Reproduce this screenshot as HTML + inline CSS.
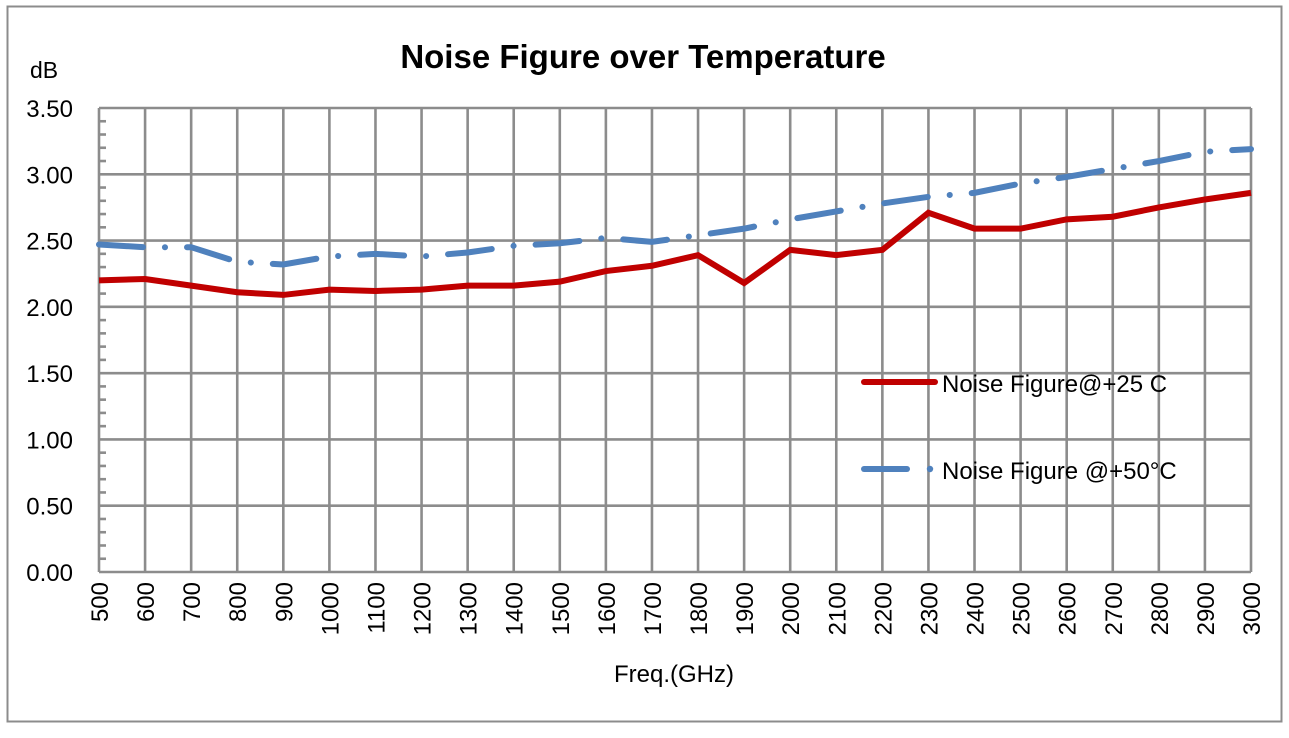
<!DOCTYPE html>
<html><head><style>body{margin:0;background:#fff}</style></head><body>
<svg id="s" width="1289" height="733" xmlns="http://www.w3.org/2000/svg" font-family="Liberation Sans, DejaVu Sans, sans-serif">
<rect x="0" y="0" width="1289" height="733" fill="#fff"/>
<rect x="7.5" y="6.5" width="1274" height="715" fill="none" stroke="#8c8c8c" stroke-width="2"/>
<text x="643" y="68" font-size="33" font-weight="bold" text-anchor="middle" fill="#000">Noise Figure over Temperature</text>
<text x="30" y="78" font-size="23" fill="#000">dB</text>
<text x="674" y="682" font-size="24" text-anchor="middle" fill="#000">Freq.(GHz)</text>
<g id="g"></g>
<text x="942" y="392" font-size="24" fill="#000">Noise Figure@+25 C</text>
<text x="942" y="479" font-size="24" fill="#000">Noise Figure @+50°C</text>
<line x1="864" y1="382" x2="935" y2="382" stroke="#c00000" stroke-width="6" stroke-linecap="round"/>
<line x1="864" y1="469" x2="907" y2="469" stroke="#4f81bd" stroke-width="6" stroke-linecap="round"/>
<circle cx="930" cy="469" r="3.2" fill="#4f81bd"/>
</svg>
<script>
var g=document.getElementById('g');
var L=99,R=1251,T=108,B=572,dx=(R-L)/25,sy=(B-T)/3.5;
function X(i){return L+i*dx}function Y(v){return B-v*sy}
var h='';
for(var i=0;i<=25;i++){h+='<line x1="'+X(i)+'" y1="'+T+'" x2="'+X(i)+'" y2="'+B+'" stroke="#8c8c8c" stroke-width="2.6"/>';
h+='<text transform="translate('+(X(i)+9)+',582) rotate(-90)" font-size="24" text-anchor="end" fill="#000">'+(500+i*100)+'</text>';}
for(var k=0;k<=7;k++){var y=Y(k*0.5);h+='<line x1="'+L+'" y1="'+y+'" x2="'+R+'" y2="'+y+'" stroke="#8c8c8c" stroke-width="2.6"/>';
h+='<text x="73" y="'+(y+9)+'" font-size="24" text-anchor="end" fill="#000">'+(k*0.5).toFixed(2)+'</text>';}
for(var m=0;m<35;m++){if(m%5==0)continue;var y=Y(m*0.1);h+='<line x1="'+L+'" y1="'+y+'" x2="'+(L+7)+'" y2="'+y+'" stroke="#8c8c8c" stroke-width="2.6"/>';}
var r=[2.20,2.21,2.16,2.11,2.09,2.13,2.12,2.13,2.16,2.16,2.19,2.27,2.31,2.39,2.18,2.43,2.39,2.43,2.71,2.59,2.59,2.66,2.68,2.75,2.81,2.86];
var b=[2.47,2.45,2.45,2.34,2.32,2.38,2.40,2.38,2.41,2.46,2.48,2.52,2.49,2.54,2.59,2.66,2.72,2.78,2.83,2.86,2.93,2.98,3.04,3.10,3.17,3.19];
function pts(a){return a.map(function(v,i){return X(i)+','+Y(v)}).join(' ')}
h+='<polyline points="'+pts(b)+'" fill="none" stroke="#4f81bd" stroke-width="6" stroke-linecap="round" stroke-dasharray="44 22 0.1 22"/>';
h+='<polyline points="'+pts(r)+'" fill="none" stroke="#c00000" stroke-width="6" stroke-linejoin="miter"/>';
g.innerHTML=h;
</script>
</body></html>
